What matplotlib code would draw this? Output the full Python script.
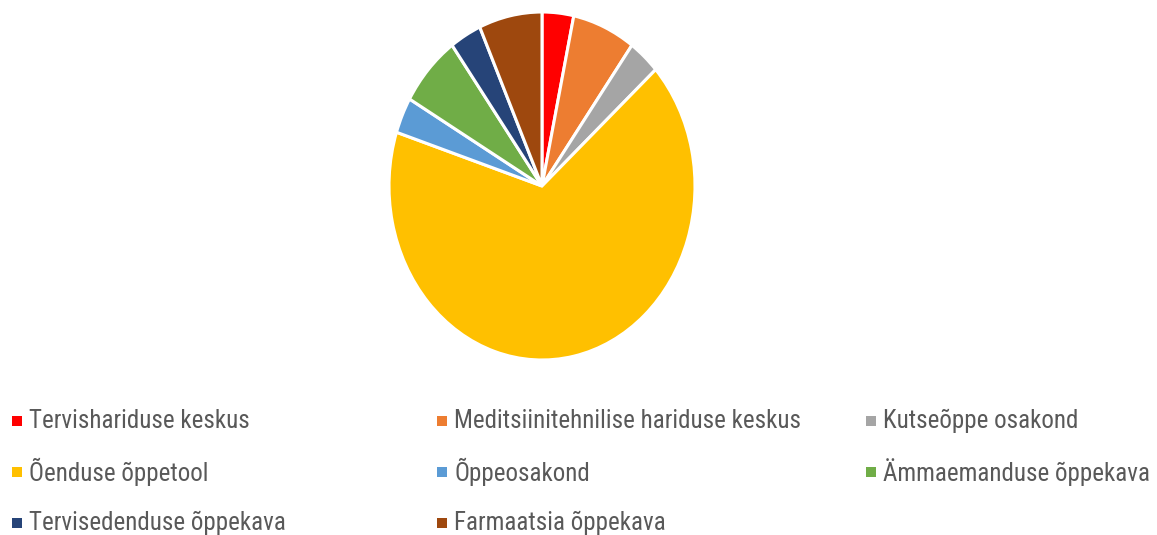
import matplotlib.pyplot as plt
import matplotlib.patches as mpatches
from matplotlib import font_manager

labels = ["Tervishariduse keskus", "Meditsiinitehnilise hariduse keskus",
          "Kutseõppe osakond", "Õenduse õppetool", "Õppeosakond",
          "Ämmaemanduse õppekava", "Tervisedenduse õppekava", "Farmaatsia õppekava"]
values = [1, 2, 1, 20, 1, 2, 1, 2]
colors = ["#FF0000", "#ED7D31", "#A5A5A5", "#FFC000", "#5B9BD5",
          "#70AD47", "#264478", "#9E480E"]

# narrow font for the legend if there is one, else something close
installed = {f.name: f for f in font_manager.fontManager.ttflist}
print(sorted(installed))
if "Liberation Sans Narrow" in installed:
    font = dict(family="Liberation Sans Narrow", fontsize=18.5)
elif "Roboto Condensed" in installed:
    font = dict(family="Roboto Condensed", fontsize=18)
else:
    font = dict(family="Roboto", fontsize=16, fontstretch="condensed")

W, H = 1157, 535
fig = plt.figure(figsize=(W / 100, H / 100), dpi=100)

# pie is drawn slightly taller than wide
cx, cy, rx, ry = 542, 186, 153, 174
ax = fig.add_axes([(cx - rx) / W, 1 - (cy + ry) / H, 2 * rx / W, 2 * ry / H])
ax.pie(values, colors=colors, startangle=90, counterclock=False,
       wedgeprops=dict(edgecolor="white", linewidth=2.2))
ax.set_aspect("auto")
ax.set_xlim(-1, 1)
ax.set_ylim(-1, 1)
ax.axis("off")

# legend in three columns, last row clipped by the figure edge
col_x = [12, 437, 866]
row_y = [421, 472, 523]
for i, (lab, col) in enumerate(zip(labels, colors)):
    x = col_x[i % 3]
    y = row_y[i // 3]
    fig.patches.append(mpatches.Rectangle((x / W, 1 - (y + 5) / H), 10 / W, 10 / H,
                                          facecolor=col, edgecolor="none",
                                          transform=fig.transFigure, figure=fig))
    fig.text((x + 17) / W, 1 - y / H, lab, color="#595959",
             va="center", ha="left", **font)

fig.savefig("out.png", dpi=100)
